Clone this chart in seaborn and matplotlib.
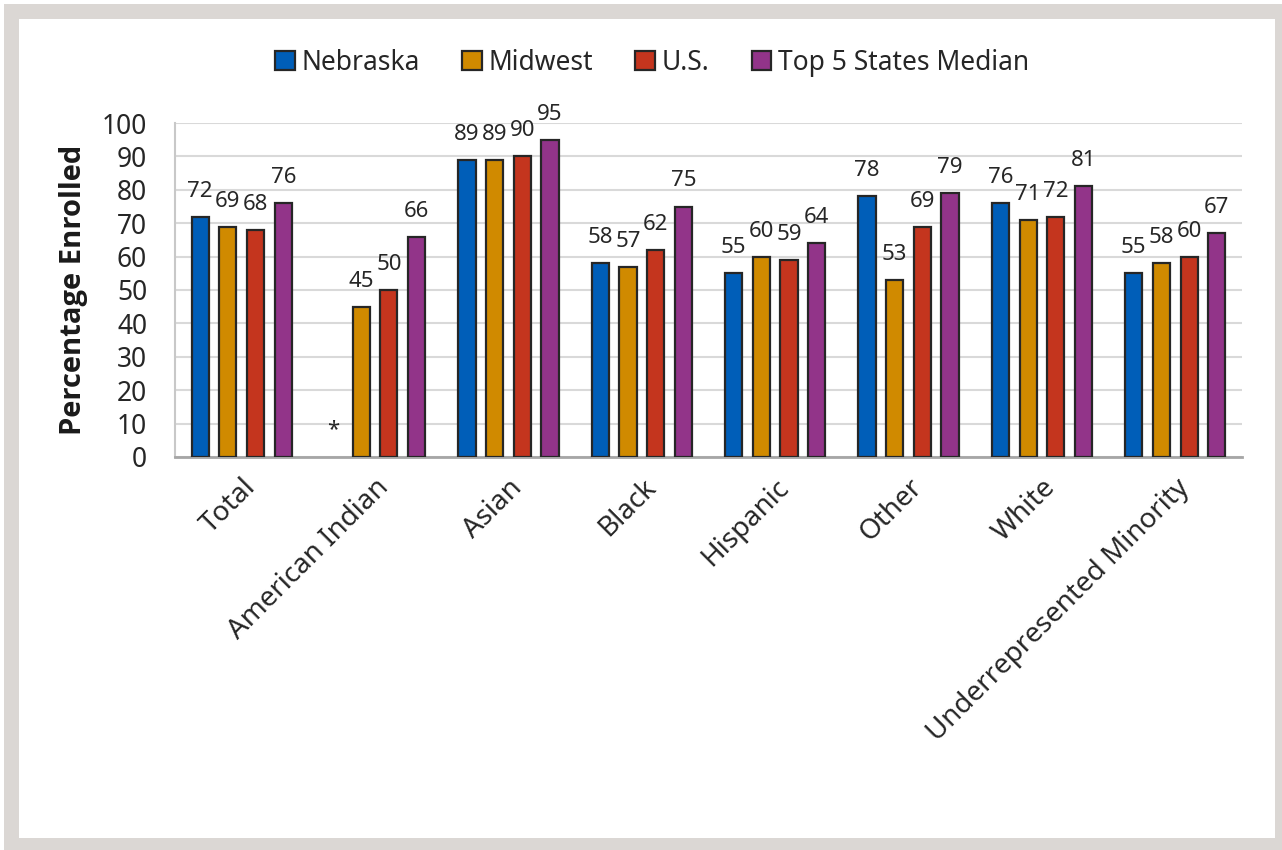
import pandas as pd
import numpy as np
import matplotlib
matplotlib.use("Agg")
import matplotlib.pyplot as plt
from matplotlib.patches import Rectangle
import seaborn as sns

# Données
categories = ["Total", "American Indian", "Asian", "Black", "Hispanic",
              "Other", "White", "Underrepresented Minority"]
series = ["Nebraska", "Midwest", "U.S.", "Top 5 States Median"]
nebraska = [72, np.nan, 89, 58, 55, 78, 76, 55]
midwest = [69, 45, 89, 57, 60, 53, 71, 58]
us = [68, 50, 90, 62, 59, 69, 72, 60]
top5 = [76, 66, 95, 75, 64, 79, 81, 67]
colors = ["#005EB8", "#D08A00", "#C4351E", "#923489"]
yticks = list(range(0, 101, 10))

df = pd.DataFrame({"category": categories, "Nebraska": nebraska, "Midwest": midwest,
                   "U.S.": us, "Top 5 States Median": top5})
df = df.melt(id_vars="category", var_name="region", value_name="value")
df["plot_value"] = df["value"].fillna(0)

sns.set_theme(style="white")
plt.rcParams["font.family"] = ["Noto Sans", "DejaVu Sans"]

fig = plt.figure(figsize=(12.82, 8.5), dpi=100)
# cadre gris autour du graphique
fig.add_artist(Rectangle((4 / 1282, 0), 1 - 4 / 1282, 1 - 4 / 850, transform=fig.transFigure,
                         facecolor="#dbd7d4", edgecolor="none", zorder=-10))
fig.add_artist(Rectangle((19 / 1282, 12 / 850), (1275 - 19) / 1282, (838 - 19) / 850,
                         transform=fig.transFigure, facecolor="white", edgecolor="none", zorder=-9))

ax = fig.add_axes([175 / 1282, 1 - 457 / 850, (1242 - 175) / 1282, (457 - 123) / 850])
ax.patch.set_alpha(0)

sns.barplot(data=df, x="category", y="plot_value", hue="region", order=categories,
            hue_order=series, palette=colors, saturation=1, width=0.83, gap=0.38,
            edgecolor="#262626", linewidth=1.6, errorbar=None, ax=ax, zorder=3)

# étiquettes de données
for i, cont in enumerate(ax.containers):
    vals = df[df["region"] == series[i]].set_index("category").loc[categories, "value"].values
    for patch, v in zip(cont.patches, vals):
        xc = patch.get_x() + patch.get_width() / 2
        if np.isnan(v):
            patch.set_visible(False)
            ax.annotate("*", xy=(xc, 0), xytext=(0, 22), textcoords="offset pixels",
                        ha="center", va="baseline", fontsize=16, color="#262626")
        else:
            ax.annotate(f"{v:.0f}", xy=(xc, patch.get_height()), xytext=(0, 20),
                        textcoords="offset pixels", ha="center", va="baseline",
                        fontsize=16, color="#262626")

ax.set_ylim(0, 100)
ax.set_yticks(yticks)
ax.set_xlim(-0.5, len(categories) - 0.5)
ax.grid(axis="y", color="#d9d9d9", linewidth=1.5, zorder=0)
ax.set_axisbelow(True)
for s in ["top", "right"]:
    ax.spines[s].set_visible(False)
ax.spines["left"].set_color("#c8c8c8")
ax.spines["left"].set_linewidth(1.5)
ax.spines["bottom"].set_color("#a6a6a6")
ax.spines["bottom"].set_linewidth(2)
ax.tick_params(axis="y", length=0, pad=20, labelsize=19, labelcolor="#262626")
ax.tick_params(axis="x", length=0, pad=12, labelsize=20, labelcolor="#262626")
plt.setp(ax.get_xticklabels(), rotation=45, ha="right", rotation_mode="anchor")
ax.set_xlabel("")
ax.set_ylabel("Percentage Enrolled", fontsize=21, fontweight="bold",
              family=["Open Sans", "Roboto", "DejaVu Sans"], color="#1a1a1a", labelpad=10)

handles, labels = ax.get_legend_handles_labels()
ax.legend_.remove()
fig.legend(handles, labels, loc="center", bbox_to_anchor=(652 / 1282, 1 - 63 / 850), ncol=4,
           frameon=False, fontsize=19, handlelength=0.75, handleheight=0.75,
           handletextpad=0.25, columnspacing=1.6, labelcolor="#262626")

fig.savefig("out.png", dpi=100)
